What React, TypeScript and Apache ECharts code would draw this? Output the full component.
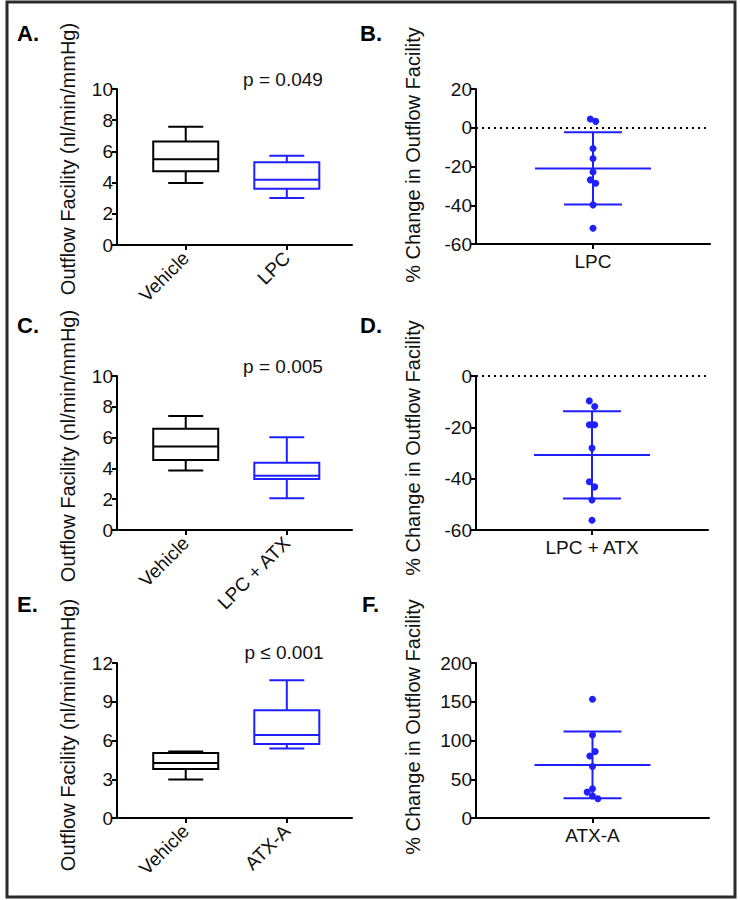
import React, { useEffect, useRef } from "react";
import * as echarts from "echarts";

// ---------- DATA ----------
// Box panels: [min, Q1, median, Q3, max]
const boxLabelsA = ["Vehicle", "LPC"];
const vehicleA = [3.98, 4.73, 5.5, 6.64, 7.58];
const lpcA = [3.02, 3.6, 4.18, 5.31, 5.72];

const boxLabelsC = ["Vehicle", "LPC + ATX"];
const vehicleC = [3.87, 4.55, 5.43, 6.58, 7.4];
const lpcAtxC = [2.06, 3.31, 3.53, 4.37, 6.02];

const boxLabelsE = ["Vehicle", "ATX-A"];
const vehicleE = [2.99, 3.79, 4.26, 5.03, 5.14];
const atxAE = [5.39, 5.73, 6.43, 8.34, 10.66];

const pTexts = ["p = 0.049", "p = 0.005", "p \u2264 0.001"];

// % change panels (individual eyes), with small horizontal jitter (axis units)
const labelB = "LPC";
const changeB = [4.5, 3.3, -10.7, -15.9, -22.8, -26.9, -28.6, -39.8, -51.9];
const jitterB = [-0.023, 0.023, 0, 0, 0, -0.023, 0.023, 0, 0];

const labelD = "LPC + ATX";
const changeD = [-9.7, -11.9, -19.0, -19.0, -28.1, -41.2, -43.2, -48.3, -56.2];
const jitterD = [-0.023, 0.023, -0.023, 0.023, 0, -0.023, 0.023, 0, 0];

const labelF = "ATX-A";
const changeF = [153.3, 107, 85.7, 80.1, 66.4, 37.7, 33.4, 28.3, 24.8];
const jitterF = [0, 0, 0.023, -0.023, 0, 0, -0.046, 0, 0.046];

const panelLetters = ["A.", "B.", "C.", "D.", "E.", "F."];
const leftTitle = "Outflow Facility (nl/min/mmHg)";
const rightTitle = "% Change in Outflow Facility";

// ---------- STYLE ----------
const FONT = 'Arial, "Liberation Sans", Helvetica, sans-serif';
const BLACK = "#000000";
const BLUE = "#1f1fff";
const TXT = "#111111";
const BOX_W = 65;
const CAP_W = 35;
const MEAN_W = 116;
const SD_W = 58;

function meanSd(arr: number[]) {
  const m = arr.reduce((a, b) => a + b, 0) / arr.length;
  const v = arr.reduce((a, b) => a + (b - m) * (b - m), 0) / (arr.length - 1);
  return [m, Math.sqrt(v)];
}

const renderBox = (params: any, api: any) => {
  const x = api.value(0);
  const color = api.value(6) === 0 ? BLACK : BLUE;
  const c = (v: number) => api.coord([x, v]);
  const pMin = c(api.value(1));
  const pQ1 = c(api.value(2));
  const pMed = c(api.value(3));
  const pQ3 = c(api.value(4));
  const pMax = c(api.value(5));
  const cx = pMin[0];
  const hb = BOX_W / 2;
  const hc = CAP_W / 2;
  const st = { stroke: color, lineWidth: 2, fill: "none" };
  return {
    type: "group",
    children: [
      { type: "rect", shape: { x: cx - hb, y: pQ3[1], width: BOX_W, height: pQ1[1] - pQ3[1] }, style: st },
      { type: "line", shape: { x1: cx - hb, y1: pMed[1], x2: cx + hb, y2: pMed[1] }, style: st },
      { type: "line", shape: { x1: cx, y1: pQ3[1], x2: cx, y2: pMax[1] }, style: st },
      { type: "line", shape: { x1: cx, y1: pQ1[1], x2: cx, y2: pMin[1] }, style: st },
      { type: "line", shape: { x1: cx - hc, y1: pMax[1], x2: cx + hc, y2: pMax[1] }, style: st },
      { type: "line", shape: { x1: cx - hc, y1: pMin[1], x2: cx + hc, y2: pMin[1] }, style: st },
    ],
  };
};

const renderMeanSd = (params: any, api: any) => {
  const x = api.value(0);
  const m = api.value(1);
  const s = api.value(2);
  const pm = api.coord([x, m]);
  const pt = api.coord([x, m + s]);
  const pb = api.coord([x, m - s]);
  const cx = pm[0];
  const st = { stroke: BLUE, lineWidth: 2, fill: "none" };
  return {
    type: "group",
    children: [
      { type: "line", shape: { x1: cx - MEAN_W / 2, y1: pm[1], x2: cx + MEAN_W / 2, y2: pm[1] }, style: st },
      { type: "line", shape: { x1: cx, y1: pt[1], x2: cx, y2: pb[1] }, style: st },
      { type: "line", shape: { x1: cx - SD_W / 2, y1: pt[1], x2: cx + SD_W / 2, y2: pt[1] }, style: st },
      { type: "line", shape: { x1: cx - SD_W / 2, y1: pb[1], x2: cx + SD_W / 2, y2: pb[1] }, style: st },
    ],
  };
};

export default function App() {
  const ref = useRef<HTMLDivElement>(null);
  useEffect(() => {
    if (!ref.current) return;
    const chart = echarts.init(ref.current, undefined, { renderer: "svg" });

    const grids = [
      { left: 117, top: 89, width: 235, height: 156 },
      { left: 476, top: 89, width: 234, height: 155 },
      { left: 117, top: 376, width: 235, height: 154 },
      { left: 476, top: 376, width: 232, height: 154 },
      { left: 117, top: 663, width: 235, height: 155 },
      { left: 476, top: 663, width: 233, height: 155 },
    ];

    const axisLine = { show: true, onZero: false, lineStyle: { color: BLACK, width: 2 } };
    const axisTick = { show: true, length: 5, lineStyle: { color: BLACK, width: 2 } };

    const boxX = (i: number, labels: string[]) => ({
      type: "value",
      gridIndex: i,
      min: 0.32,
      max: 2.645,
      splitLine: { show: false },
      axisLine,
      axisTick: { ...axisTick, customValues: [1, 2] },
      axisLabel: {
        customValues: [1, 2],
        formatter: (v: number) => labels[Math.round(v) - 1] ?? "",
        rotate: 45,
        margin: 10,
        fontSize: 19,
        fontFamily: FONT,
        color: TXT,
      },
    });
    const scatX = (i: number, label: string) => ({
      type: "value",
      gridIndex: i,
      min: 0,
      max: 2,
      splitLine: { show: false },
      axisLine,
      axisTick: { ...axisTick, customValues: [1] },
      axisLabel: {
        customValues: [1],
        formatter: () => label,
        margin: 8,
        fontSize: 19,
        fontFamily: FONT,
        color: TXT,
      },
    });
    const yAx = (i: number, min: number, max: number, interval: number) => ({
      type: "value",
      gridIndex: i,
      min,
      max,
      interval,
      splitLine: { show: false },
      axisLine,
      axisTick,
      axisLabel: { fontSize: 19, fontFamily: FONT, color: TXT, margin: 4 },
    });

    const boxData = (a: number[], b: number[]) => [
      [1, ...a, 0],
      [2, ...b, 1],
    ];
    const boxSeries = (i: number, a: number[], b: number[]) => ({
      type: "custom",
      xAxisIndex: i,
      yAxisIndex: i,
      renderItem: renderBox,
      encode: { x: 0, y: [1, 2, 3, 4, 5] },
      data: boxData(a, b),
      clip: false,
    });
    const scatterSeries = (i: number, vals: number[], jit: number[], zeroLine: boolean) => ({
      type: "scatter",
      xAxisIndex: i,
      yAxisIndex: i,
      symbolSize: 7,
      itemStyle: { color: BLUE, opacity: 1 },
      z: 5,
      data: vals.map((v, k) => [1 + jit[k], v]),
      markLine: zeroLine
        ? {
            silent: true,
            symbol: ["none", "none"],
            label: { show: false },
            lineStyle: { color: BLACK, type: [2, 4], width: 2 },
            data: [{ yAxis: 0 }],
          }
        : undefined,
    });
    const msSeries = (i: number, vals: number[]) => {
      const [m, s] = meanSd(vals);
      return {
        type: "custom",
        xAxisIndex: i,
        yAxisIndex: i,
        renderItem: renderMeanSd,
        encode: { x: 0, y: 1 },
        data: [[1, m, s]],
        z: 3,
      };
    };

    const letterPos = [
      [17, 33],
      [360, 33],
      [17, 325],
      [360, 325],
      [17, 604],
      [362, 604],
    ];
    const pPos = [
      [283, 79],
      [283, 366],
      [284, 652],
    ];
    const leftTitlePos = [
      [68, 159],
      [68, 446],
      [68, 735],
    ];
    const rightTitlePos = [
      [413, 155],
      [413, 448],
      [413, 727],
    ];

    const graphic: any[] = [
      {
        type: "rect",
        shape: { x: 7, y: 2, width: 728, height: 895 },
        style: { fill: "none", stroke: "#2a2a2a", lineWidth: 3 },
        silent: true,
      },
    ];
    panelLetters.forEach((t, k) =>
      graphic.push({
        type: "text",
        x: letterPos[k][0],
        y: letterPos[k][1],
        style: { text: t, fill: BLACK, font: `bold 22px ${FONT}`, align: "left", verticalAlign: "middle" },
      })
    );
    pTexts.forEach((t, k) =>
      graphic.push({
        type: "text",
        x: pPos[k][0],
        y: pPos[k][1],
        style: { text: t, fill: TXT, font: `19px ${FONT}`, align: "center", verticalAlign: "middle" },
      })
    );
    leftTitlePos.forEach((p) =>
      graphic.push({
        type: "text",
        x: p[0],
        y: p[1],
        rotation: Math.PI / 2,
        style: { text: leftTitle, fill: TXT, font: `20px ${FONT}`, align: "center", verticalAlign: "middle" },
      })
    );
    rightTitlePos.forEach((p) =>
      graphic.push({
        type: "text",
        x: p[0],
        y: p[1],
        rotation: Math.PI / 2,
        style: { text: rightTitle, fill: TXT, font: `20px ${FONT}`, align: "center", verticalAlign: "middle" },
      })
    );

    chart.setOption({
      animation: false,
      backgroundColor: "#ffffff",
      grid: grids,
      xAxis: [
        boxX(0, boxLabelsA),
        scatX(1, labelB),
        boxX(2, boxLabelsC),
        scatX(3, labelD),
        boxX(4, boxLabelsE),
        scatX(5, labelF),
      ],
      yAxis: [
        yAx(0, 0, 10, 2),
        yAx(1, -60, 20, 20),
        yAx(2, 0, 10, 2),
        yAx(3, -60, 0, 20),
        yAx(4, 0, 12, 3),
        yAx(5, 0, 200, 50),
      ],
      series: [
        boxSeries(0, vehicleA, lpcA),
        msSeries(1, changeB),
        scatterSeries(1, changeB, jitterB, true),
        boxSeries(2, vehicleC, lpcAtxC),
        msSeries(3, changeD),
        scatterSeries(3, changeD, jitterD, true),
        boxSeries(4, vehicleE, atxAE),
        msSeries(5, changeF),
        scatterSeries(5, changeF, jitterF, false),
      ],
      graphic,
    });
    return () => chart.dispose();
  }, []);
  return (
    <div
      ref={ref}
      style={{ position: "absolute", left: 0, top: 0, width: 740, height: 900, background: "#fff" }}
    />
  );
}
